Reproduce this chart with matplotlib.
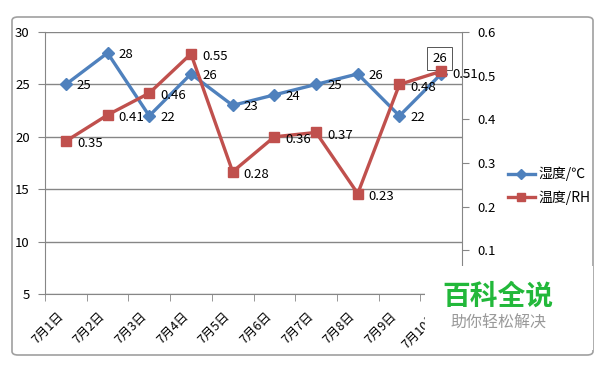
import matplotlib.pyplot as plt
from matplotlib.lines import Line2D
from matplotlib.patches import FancyBboxPatch, Rectangle

plt.rcParams['font.family'] = ['Noto Sans CJK SC', 'DejaVu Sans']

dates = ['7月1日', '7月2日', '7月3日', '7月4日', '7月5日',
         '7月6日', '7月7日', '7月8日', '7月9日', '7月10日']
shidu = [25, 28, 22, 26, 23, 24, 25, 26, 22, 26]
wendu = [0.35, 0.41, 0.46, 0.55, 0.28, 0.36, 0.37, 0.23, 0.48, 0.51]
left_ticks = [5, 10, 15, 20, 25, 30]
right_ticks = [0.1, 0.2, 0.3, 0.4, 0.5, 0.6]

blue = '#4F81BD'
red = '#C0504D'
grid_c = '#868686'

fig = plt.figure(figsize=(6.01, 3.65), dpi=100)
fig.patch.set_facecolor('white')

# chart area frame (Excel style)
frame = FancyBboxPatch((12 / 601, 1 - 355 / 365), 581 / 601, 338 / 365,
                       boxstyle='round,pad=0,rounding_size=0.01',
                       transform=fig.transFigure, facecolor='none',
                       edgecolor='#A0A0A0', linewidth=1.2, zorder=-1)
fig.patches.append(frame)

ax = fig.add_axes([45 / 601, 1 - 294 / 365, 417 / 601, 262 / 365])
ax.patch.set_alpha(0)
ax2 = ax.twinx()

x = list(range(len(dates)))

# left axis
ax.set_ylim(5, 30)
ax.set_yticks(left_ticks)
ax.set_xlim(-0.5, len(dates) - 0.5)
ax.set_xticks(x)
ax.set_xticklabels(dates, rotation=45, ha='right', va='top', fontsize=9)
ax.set_xticks([i - 0.5 for i in range(len(dates) + 1)], minor=True)
ax.tick_params(axis='x', which='major', length=0, pad=11)
ax.tick_params(axis='x', which='minor', length=5, color=grid_c)
ax.tick_params(axis='y', length=5, color=grid_c, labelsize=9.5, pad=6)
ax.grid(axis='y', color=grid_c, linewidth=1)
ax.set_axisbelow(True)
for s in ['top', 'right']:
    ax.spines[s].set_visible(False)
for s in ['left', 'bottom']:
    ax.spines[s].set_color(grid_c)

# right axis
ax2.set_ylim(0, 0.6)
ax2.set_yticks(right_ticks)
ax2.tick_params(axis='y', length=5, color=grid_c, labelsize=9.5, pad=6)
for s in ['top', 'left', 'bottom']:
    ax2.spines[s].set_visible(False)
ax2.spines['right'].set_color(grid_c)

# series
ax.plot(x, shidu, color=blue, linewidth=2.4, marker='D', markersize=6,
        zorder=3)
ax2.plot(x, wendu, color=red, linewidth=2.4, marker='s', markersize=7.5,
         zorder=3)

for i, v in enumerate(shidu):
    if i == len(shidu) - 1:
        ax.annotate(str(v), (i, v), xytext=(-1, 11), textcoords='offset points',
                    ha='center', va='center', fontsize=9.5,
                    bbox=dict(boxstyle='square,pad=0.4', fc='white',
                              ec='#555555', lw=0.7))
    else:
        ax.annotate(str(v), (i, v), xytext=(8, -1), textcoords='offset points',
                    ha='left', va='center', fontsize=9.5)
for i, v in enumerate(wendu):
    ax2.annotate(f'{v:g}', (i, v), xytext=(8, -2), textcoords='offset points',
                 ha='left', va='center', fontsize=9.5, zorder=5)

# legend
handles = [Line2D([], [], color=blue, lw=2.4, marker='D', markersize=5),
           Line2D([], [], color=red, lw=2.4, marker='s', markersize=6)]
fig.legend(handles, ['湿度/℃', '温度/RH'], loc='center left',
           bbox_to_anchor=(495 / 601, 1 - 186 / 365), frameon=False,
           fontsize=10, handlelength=2.0, handletextpad=0.25,
           labelspacing=0.65)

# watermark
fig.patches.append(Rectangle((425 / 601, 1 - 350 / 365), 168 / 601, 84 / 365,
                             transform=fig.transFigure, facecolor='white',
                             edgecolor='none', zorder=10))
fig.text(498 / 601, 1 - 297 / 365, '百科全说', color='#22B83A', fontsize=20,
         fontweight='bold', ha='center', va='center', zorder=11)
fig.text(498 / 601, 1 - 323 / 365, '助你轻松解决', color='#999999',
         fontsize=11.5, ha='center', va='center', zorder=11)

fig.savefig('out.png', dpi=100)
